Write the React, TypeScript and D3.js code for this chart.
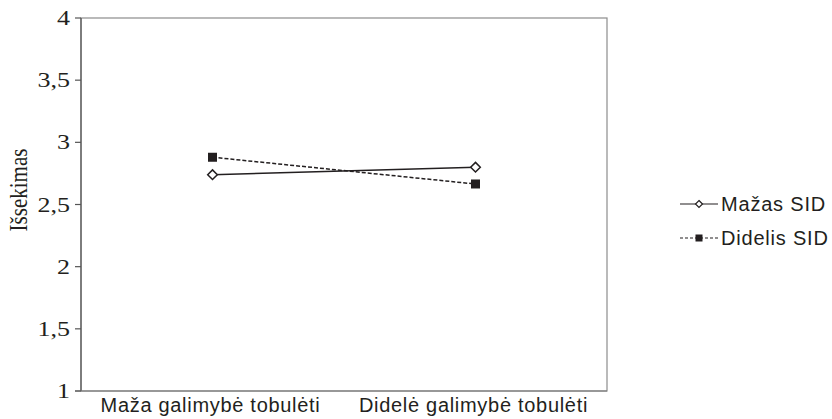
import React from "react";
import * as d3 from "d3";

const categories = ["Maža galimybė tobulėti", "Didelė galimybė tobulėti"];
const mazasSID = [2.74, 2.80];
const didelisSID = [2.88, 2.665];
const yTicks = [1, 1.5, 2, 2.5, 3, 3.5, 4];
const seriesNames = ["Mažas SID", "Didelis SID"];

const W = 832;
const H = 419;
const left = 81;
const right = 607;
const top = 18;
const bottom = 391;

export default function App() {
  const x = d3.scaleBand<string>().domain(categories).range([left, right]);
  const y = d3.scaleLinear().domain([1, 4]).range([bottom, top]);
  const cx = (c: string) => (x(c) ?? 0) + x.bandwidth() / 2;
  const line = d3
    .line<number>()
    .x((_, i) => cx(categories[i]))
    .y((d) => y(d));
  const fmt = (v: number) => String(v).replace(".", ",");
  const ink = "#231f20";
  const sans = "'Liberation Sans', Arial, sans-serif";
  const serif = "'Liberation Serif', 'Times New Roman', serif";
  const diamond = (px: number, py: number, r: number) =>
    `M${px},${py - r}L${px + r},${py}L${px},${py + r}L${px - r},${py}Z`;

  return (
    <svg
      width={W}
      height={H}
      style={{ position: "absolute", left: 0, top: 0, background: "#fff" }}
    >
      {/* frame */}
      <rect
        x={left}
        y={top}
        width={right - left}
        height={bottom - top}
        fill="none"
        stroke="#8c8c8c"
        strokeWidth={1.2}
      />
      <line x1={left} x2={left} y1={top} y2={bottom} stroke="#555" strokeWidth={1.2} />
      <line x1={left - 6} x2={right} y1={bottom} y2={bottom} stroke="#777" strokeWidth={1.2} />
      {/* y ticks */}
      {yTicks.map((t) => (
        <g key={t}>
          <line x1={left - 6} x2={left} y1={y(t)} y2={y(t)} stroke="#555" strokeWidth={1.2} />
          <g transform={`translate(70,${y(t)}) scale(1.3,1)`}>
            <text
              x={0}
              y={0}
              dy="0.35em"
              textAnchor="end"
              fontFamily={serif}
              fontSize={20}
              fill={ink}
            >
              {fmt(t)}
            </text>
          </g>
        </g>
      ))}
      <g transform={`translate(18,${190}) rotate(-90) scale(1,1.2)`}>
        <text
          textAnchor="middle"
          dy="0.35em"
          fontFamily={serif}
          fontSize={21}
          fill={ink}
        >
          Išsekimas
        </text>
      </g>
      {/* x labels */}
      {categories.map((c) => (
        <text
          key={c}
          x={cx(c) - 2}
          y={412}
          textAnchor="middle"
          fontFamily={sans}
          fontSize={20}
          letterSpacing={0.7}
          fill={ink}
        >
          {c}
        </text>
      ))}
      {/* series */}
      <path d={line(mazasSID) ?? ""} fill="none" stroke={ink} strokeWidth={1.5} />
      <path
        d={line(didelisSID) ?? ""}
        fill="none"
        stroke={ink}
        strokeWidth={1.5}
        strokeDasharray="4,2"
      />
      {mazasSID.map((v, i) => (
        <path
          key={"m" + i}
          d={diamond(cx(categories[i]), y(v), 4.8)}
          fill="#fff"
          stroke={ink}
          strokeWidth={1.5}
        />
      ))}
      {didelisSID.map((v, i) => (
        <rect
          key={"d" + i}
          x={cx(categories[i]) - 4.5}
          y={y(v) - 4.5}
          width={9}
          height={9}
          fill={ink}
        />
      ))}
      {/* legend */}
      <g>
        <line x1={680} x2={718} y1={204} y2={204} stroke={ink} strokeWidth={1.2} />
        <path d={diamond(699, 204, 3.5)} fill="#fff" stroke={ink} strokeWidth={1.2} />
        <text
          x={721}
          y={204}
          dy="0.35em"
          fontFamily={sans}
          fontSize={20}
          letterSpacing={0.8}
          fill={ink}
        >
          {seriesNames[0]}
        </text>
        <line
          x1={680}
          x2={718}
          y1={238}
          y2={238}
          stroke={ink}
          strokeWidth={1.2}
          strokeDasharray="3,2"
        />
        <rect x={695.5} y={234.5} width={7} height={7} fill={ink} />
        <text
          x={721}
          y={238}
          dy="0.35em"
          fontFamily={sans}
          fontSize={20}
          letterSpacing={0.8}
          fill={ink}
        >
          {seriesNames[1]}
        </text>
      </g>
    </svg>
  );
}
